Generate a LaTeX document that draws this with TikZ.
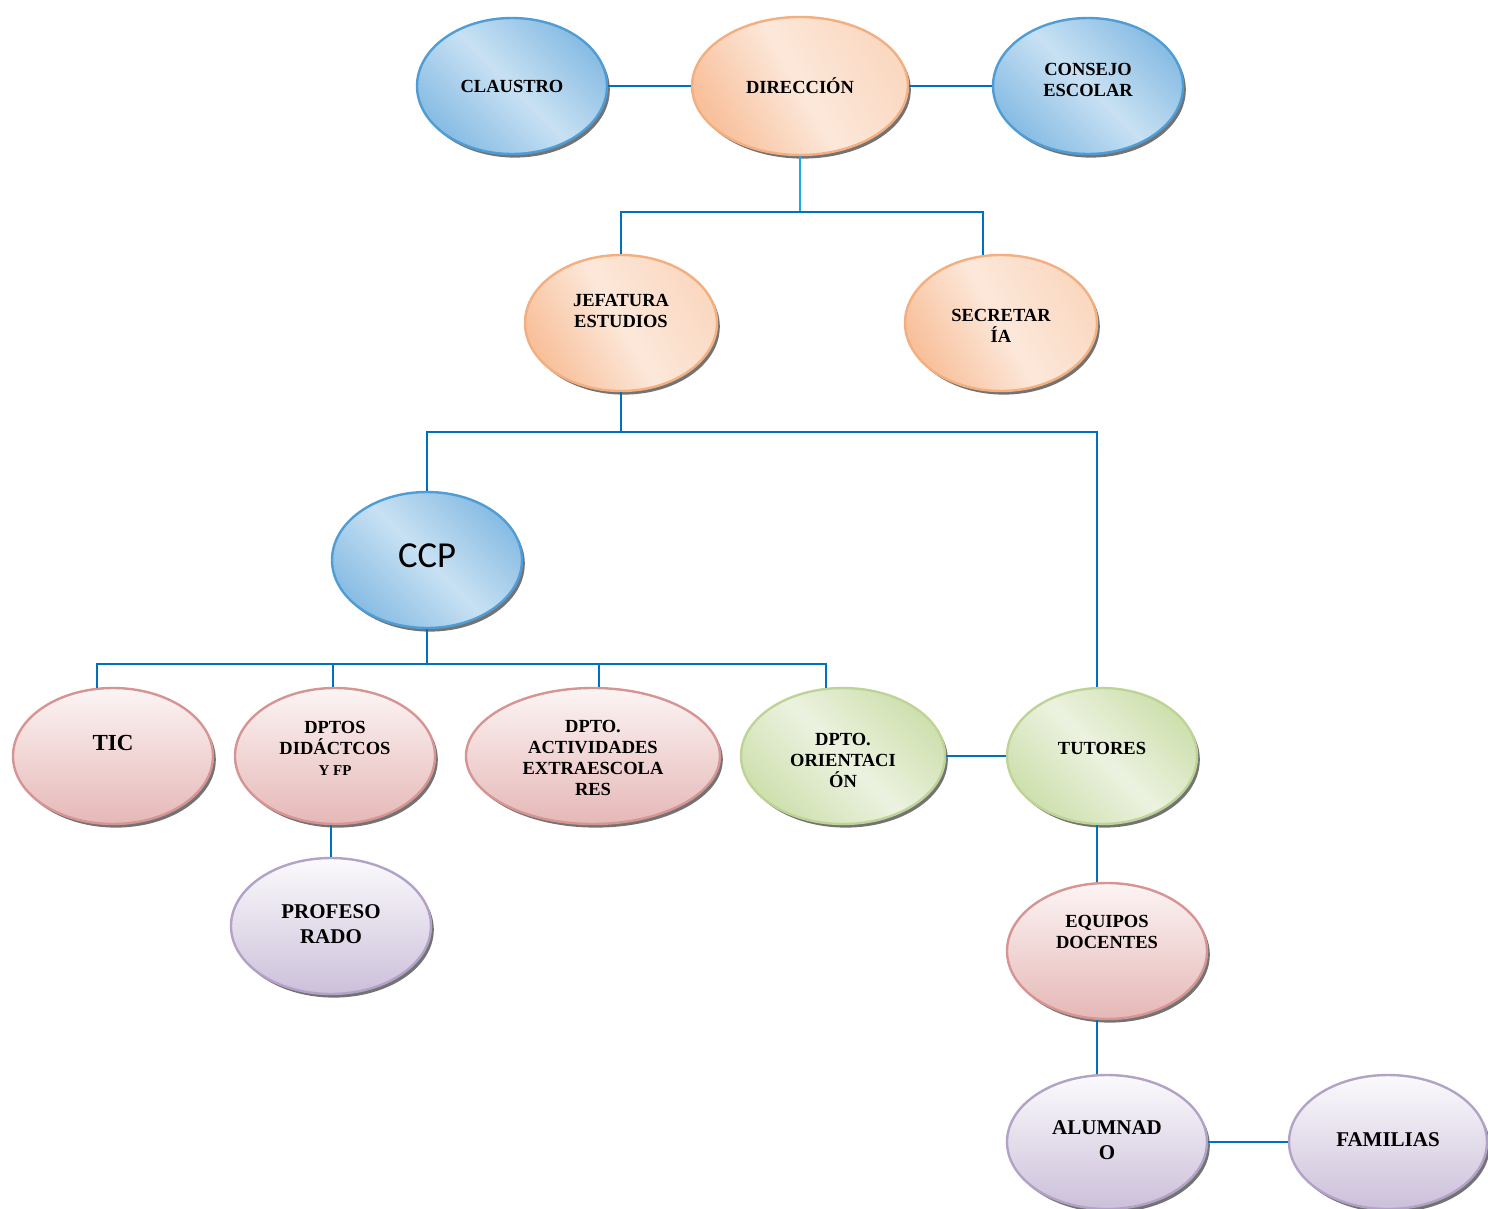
\documentclass[tikz,border=0pt]{standalone}
\usepackage{fontspec}
\setmainfont{Liberation Serif}
\newfontfamily\ccpfont{Carlito}
\usepackage{tikz}
\usetikzlibrary{shapes.geometric,shadows}
\definecolor{lblue}{RGB}{200,225,243}
\definecolor{dblue}{RGB}{136,188,227}
\definecolor{oblue}{RGB}{79,157,215}
\definecolor{lorange}{RGB}{252,232,218}
\definecolor{dorange}{RGB}{248,192,155}
\definecolor{oorange}{RGB}{243,175,128}
\definecolor{lpink}{RGB}{252,244,244}
\definecolor{dpink}{RGB}{229,184,183}
\definecolor{opink}{RGB}{214,148,146}
\definecolor{lgreen}{RGB}{236,242,224}
\definecolor{dgreen}{RGB}{206,224,174}
\definecolor{ogreen}{RGB}{190,212,150}
\definecolor{lpurple}{RGB}{251,250,252}
\definecolor{dpurple}{RGB}{204,192,218}
\definecolor{opurple}{RGB}{179,162,199}
\definecolor{linkblue}{RGB}{0,112,192}
\definecolor{linkcyan}{RGB}{30,168,230}
\def\txtSize{\fontsize{9.25}{10.5}\selectfont}
\def\bigSize{\fontsize{10.5}{12.5}\selectfont}
\tikzset{
  oval/.style={ellipse, minimum height=68pt, inner sep=0pt, line width=1.2pt,
    drop shadow={shadow xshift=1.4pt, shadow yshift=-1.8pt, fill=black!55, opacity=1}},
  blueov/.style={oval, draw=oblue, left color=dblue, right color=dblue, middle color=lblue, shading angle=135},
  orangeov/.style={oval, draw=oorange, left color=dorange, right color=lorange!60!dorange, middle color=lorange, shading angle=120},
  pinkov/.style={oval, draw=opink, top color=lpink, bottom color=dpink},
  greenov/.style={oval, draw=ogreen, left color=dgreen, right color=dgreen, middle color=lgreen, shading angle=135},
  purpleov/.style={oval, draw=opurple, top color=lpurple, bottom color=dpurple},
  txt/.style={font=\bfseries\txtSize, align=center, inner sep=0pt},
  bigtxt/.style={font=\bfseries\bigSize, align=center, inner sep=0pt},
  ccptxt/.style={font=\ccpfont\fontsize{18.3}{22}\selectfont, inner sep=0pt},
  link/.style={draw=linkblue, line width=1pt},
  linkc/.style={draw=linkcyan, line width=1pt}
}

\begin{document}
\begin{tikzpicture}[x=0.5pt,y=-0.5pt]
  \useasboundingbox (0,0) rectangle (1488,1209);
  \node[blueov, minimum width=95pt, label={[txt]center:CLAUSTRO}] (claustro) at (512,86) {};
  \node[orangeov, minimum width=108pt, minimum height=69pt, label={[txt]center:DIRECCIÓN}] (direccion) at (800,86) {};
  \node[blueov, minimum width=95pt, label={[txt,yshift=3pt]center:CONSEJO\\ESCOLAR}] (consejo) at (1088,86) {};
  \node[orangeov, minimum width=96pt, label={[txt,yshift=6pt]center:JEFATURA\\ESTUDIOS}] (jefatura) at (621,323) {};
  \node[orangeov, minimum width=96pt, label={[txt,yshift=-1.5pt]center:SECRETAR\\ÍA}] (secretaria) at (1001,323) {};
  \node[blueov, minimum width=95pt, label={[ccptxt,yshift=2pt]center:CCP}] (ccp) at (427,560) {};
  \node[pinkov, minimum width=100pt, label={[txt,font=\bfseries\fontsize{11.5}{13}\selectfont,yshift=6.5pt]center:TIC}] (tic) at (113,756) {};
  \node[pinkov, minimum width=100pt, label={[txt,yshift=4pt]center:DPTOS\\DIDÁCTCOS\\{\fontsize{7.5}{9}\selectfont Y FP}}] (dptos) at (335,756) {};
  \node[pinkov, minimum width=127pt, label={[txt,yshift=-1pt]center:DPTO.\\ACTIVIDADES\\EXTRAESCOLA\\RES}] (activ) at (593,756) {};
  \node[greenov, minimum width=102pt, label={[txt,yshift=-2pt]center:DPTO.\\ORIENTACI\\ÓN}] (orient) at (843,756) {};
  \node[greenov, minimum width=95pt, label={[txt,yshift=4pt]center:TUTORES}] (tutores) at (1102,756) {};
  \node[purpleov, minimum width=100pt, label={[bigtxt,yshift=1pt]center:PROFESO\\RADO}] (profes) at (331,926) {};
  \node[pinkov, minimum width=100pt, label={[txt,yshift=9.5pt]center:EQUIPOS\\DOCENTES}] (equipos) at (1107,951) {};
  \node[purpleov, minimum width=100pt, minimum height=67pt, label={[bigtxt,yshift=1pt]center:ALUMNAD\\O}] (alumnado) at (1107,1142) {};
  \node[purpleov, minimum width=99pt, minimum height=67pt, label={[bigtxt,yshift=1pt]center:FAMILIAS}] (familias) at (1388,1142) {};
  \coordinate (b1) at (800,212);
  \coordinate (b2) at (jefatura.south |- 0,432);
  \coordinate (b3) at (ccp.south |- 0,664);
  \draw[link] (claustro) -- (direccion);
  \draw[link] (direccion) -- (consejo);
  \draw[linkc] (direccion.south) -- (b1);
  \draw[link] (jefatura.north) |- (b1) -| (secretaria.105);
  \draw[link] (jefatura.south) -- (b2);
  \draw[link] (ccp.north) |- (b2) -| (tutores.94);
  \draw[link] (ccp.south) -- (b3);
  \draw[link] (tic.103) |- (b3) -| (orient.104);
  \draw[link] (dptos.92) -- (dptos.92 |- b3);
  \draw[link] (activ.85) -- (activ.85 |- b3);
  \draw[link] (profes.north) -- (profes.north |- dptos.south);
  \draw[link] (orient) -- (tutores);
  \draw[link] (tutores.266) -- (tutores.266 |- equipos.north);
  \draw[link] (alumnado.98) -- (alumnado.98 |- equipos.south);
  \draw[link] (alumnado) -- (familias);
\end{tikzpicture}
\end{document}
